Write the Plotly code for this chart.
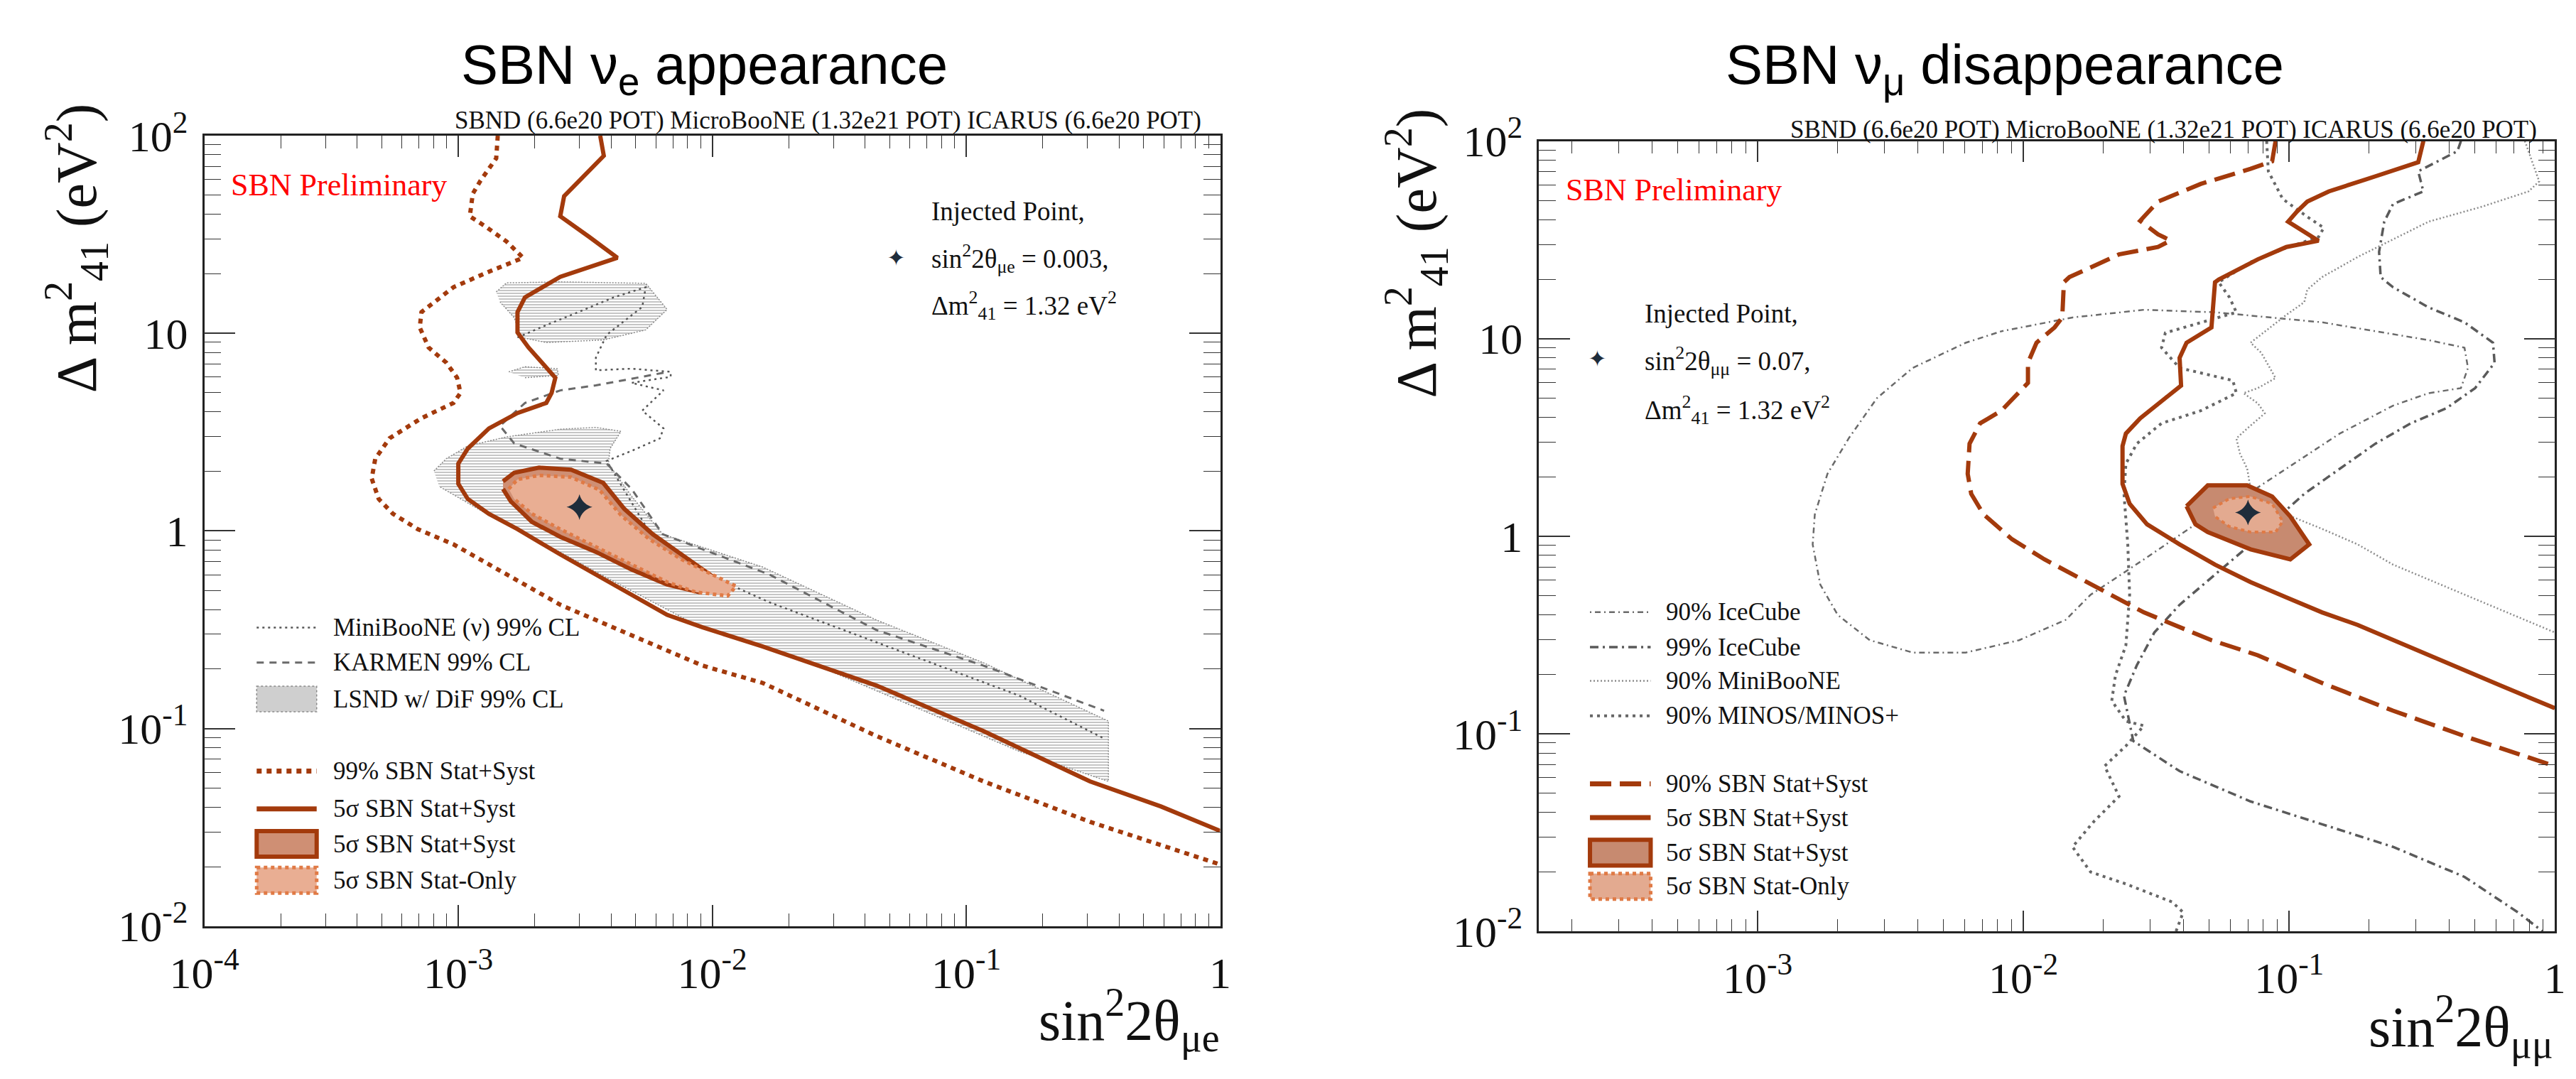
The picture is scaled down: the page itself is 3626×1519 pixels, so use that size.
import plotly.graph_objects as go

W, H = 3626, 1519
SBN = '#a33a0c'
SBN_FILL = '#cf8f74'
SO_FILL = '#e9ae93'
SO_LINE = '#e07a45'

# ---------------- LEFT PANEL: nu_e appearance ----------------
sbn99_app_x = [1.43e-3, 1.41e-3, 1.22e-3, 1.14e-3, 1.11e-3, 1.28e-3, 1.55e-3, 1.80e-3, 1.32e-3, 9.57e-4,
               7.16e-4, 7.05e-4, 7.64e-4, 8.97e-4, 9.89e-4, 1.02e-3, 9.57e-4, 7.16e-4, 5.36e-4, 4.71e-4,
               4.56e-4, 4.86e-4, 5.53e-4, 6.93e-4, 9.57e-4, 1.32e-3, 1.83e-3, 2.52e-3, 3.48e-3, 4.81e-3,
               6.64e-3, 9.16e-3, 1.58e-2, 4.43e-2, 0.117, 0.307, 1.0]
sbn99_app_y = [100, 76.8, 58.9, 50.8, 39.1, 34.7, 29.1, 24.1, 20.5, 17.1,
               12.8, 10.7, 8.47, 7.10, 5.96, 4.99, 4.44, 3.72, 2.94, 2.32,
               1.84, 1.45, 1.22, 1.02, 0.855, 0.676, 0.535, 0.423, 0.354, 0.297,
               0.249, 0.208, 0.170, 0.0916, 0.054, 0.0337, 0.0205]

sbn5s_app_x = [3.62e-3, 3.74e-3, 2.61e-3, 2.52e-3, 3.27e-3, 4.23e-3, 2.52e-3, 1.83e-3, 1.71e-3, 1.71e-3,
               1.89e-3, 2.22e-3, 2.41e-3, 2.33e-3, 2.22e-3, 1.71e-3, 1.32e-3, 1.09e-3, 1.00e-3, 1.00e-3,
               1.09e-3, 1.32e-3, 1.71e-3, 2.52e-3, 3.48e-3, 4.81e-3, 6.64e-3, 9.16e-3, 1.58e-2, 4.43e-2,
               0.117, 0.307, 0.585, 1.0]
sbn5s_app_y = [100, 79.1, 49.4, 39.1, 30.8, 24.1, 19.3, 15.2, 12.8, 10.1,
               8.47, 6.70, 5.96, 4.99, 4.44, 3.95, 3.30, 2.61, 2.19, 1.73,
               1.45, 1.22, 1.02, 0.760, 0.601, 0.475, 0.376, 0.325, 0.26, 0.165,
               0.097, 0.054, 0.0403, 0.0303]

reg_syst_app_x = [1.50e-3, 1.66e-3, 2.08e-3, 2.78e-3, 3.72e-3, 4.51e-3, 5.83e-3, 7.55e-3, 1.08e-2, 8.87e-3,
                  6.64e-3, 4.81e-3, 3.48e-3, 2.52e-3, 1.95e-3, 1.61e-3, 1.50e-3]
reg_syst_app_y = [1.78, 1.97, 2.09, 2.04, 1.75, 1.29, 0.962, 0.760, 0.550, 0.490,
                  0.535, 0.637, 0.783, 0.933, 1.11, 1.41, 1.63]

reg_stat_app_x = [1.58e-3, 1.71e-3, 2.08e-3, 2.78e-3, 3.60e-3, 4.37e-3, 5.65e-3, 7.55e-3, 1.24e-2, 1.15e-2,
                  8.59e-3, 6.64e-3, 4.81e-3, 3.48e-3, 2.52e-3, 1.95e-3, 1.66e-3]
reg_stat_app_y = [1.63, 1.82, 1.91, 1.87, 1.61, 1.20, 0.908, 0.718, 0.525, 0.469,
                  0.490, 0.551, 0.676, 0.830, 1.02, 1.22, 1.45]

lsnd_main_x = [8.02e-4, 8.97e-4, 1.09e-3, 1.55e-3, 2.52e-3, 3.48e-3, 4.37e-3, 3.96e-3, 3.90e-3, 4.81e-3,
               6.38e-3, 0.0158, 0.0443, 0.117, 0.363, 0.363, 0.161, 0.0611, 0.0232, 8.81e-3,
               3.48e-3, 2.52e-3, 1.83e-3, 1.32e-3, 1.02e-3, 8.41e-4]
lsnd_main_y = [2.01, 2.32, 2.69, 2.99, 3.27, 3.34, 3.19, 2.61, 2.19, 1.50,
               0.962, 0.656, 0.354, 0.215, 0.109, 0.054, 0.0768, 0.130, 0.221, 0.33,
               0.62, 0.78, 0.97, 1.20, 1.45, 1.68]
lsnd_top_x = [1.41e-3, 1.55e-3, 2.52e-3, 5.47e-3, 6.64e-3, 5.47e-3, 3.72e-3, 2.22e-3, 1.77e-3, 1.66e-3, 1.46e-3]
lsnd_top_y = [16.2, 18.0, 18.2, 17.9, 13.2, 10.4, 9.25, 8.98, 9.52, 12.0, 14.4]
lsnd_mid_x = [1.58e-3, 1.83e-3, 2.45e-3, 2.48e-3, 1.83e-3]
lsnd_mid_y = [6.38, 6.77, 6.62, 6.13, 5.96]

mb_app_x = [1.71e-3, 2.22e-3, 2.97e-3, 4.09e-3, 5.47e-3, 5.30e-3, 3.84e-3, 3.48e-3, 3.48e-3, 4.81e-3,
            6.86e-3, 6.86e-3, 4.81e-3, 6.43e-3, 5.30e-3, 6.43e-3, 6.22e-3, 4.81e-3, 3.84e-3, 6.38e-3,
            0.0168, 0.0611, 0.161, 0.349]
mb_app_y = [9.52, 11.0, 12.8, 15.2, 17.1, 13.6, 9.82, 7.53, 6.50, 6.62,
            6.38, 6.02, 5.61, 5.14, 4.06, 3.30, 2.94, 2.54, 2.26, 0.760,
            0.435, 0.234, 0.147, 0.0890]

karmen_x = [6.43e-3, 3.48e-3, 2.52e-3, 1.83e-3, 1.46e-3, 1.66e-3, 2.52e-3, 3.84e-3, 4.81e-3, 6.38e-3,
            0.0168, 0.0443, 0.117, 0.349]
karmen_y = [6.31, 5.45, 5.14, 4.44, 3.40, 2.77, 2.32, 2.19, 1.63, 0.962,
            0.601, 0.315, 0.208, 0.123]

inj_app = ([0.003], [1.32])

# ---------------- RIGHT PANEL: nu_mu disappearance ----------------
sbn90_dis_x = [0.0889, 0.0863, 0.0716, 0.0465, 0.0321, 0.0275, 0.0321, 0.0358, 0.0321, 0.0229,
               0.0184, 0.0149, 0.0142, 0.0140, 0.0131, 0.0112, 0.0104, 0.0104, 0.00878, 0.00826,
               6.87e-3, 6.27e-3, 6.17e-3, 6.36e-3, 7.08e-3, 9.06e-3, 0.0120, 0.0153, 0.0189, 0.0284,
               0.0510, 0.0762, 0.133, 0.246, 0.485, 1.0]
sbn90_dis_y = [100, 79.0, 72.4, 60.7, 49.4, 39.5, 33.7, 31.4, 29.1, 26.7,
               23.3, 20.5, 19.3, 12.8, 11.4, 9.54, 7.55, 5.97, 4.71, 4.32,
               3.73, 2.94, 2.07, 1.64, 1.29, 0.966, 0.764, 0.640, 0.552, 0.412,
               0.298, 0.250, 0.181, 0.131, 0.0948, 0.0687]

sbn5s_dis_x = [0.320, 0.306, 0.211, 0.141, 0.117, 0.107, 0.0991, 0.129, 0.0976, 0.0762,
               0.0543, 0.0526, 0.0510, 0.0411, 0.0387, 0.0392, 0.0342, 0.0275, 0.0243, 0.0236,
               0.0236, 0.0251, 0.0292, 0.0387, 0.0526, 0.0716, 0.0976, 0.133, 0.181, 0.246,
               0.335, 0.457, 0.622, 1.0]
sbn5s_dis_y = [100, 78.1, 66.3, 55.6, 49.4, 44.0, 39.1, 31.3, 29.1, 25.2,
               19.9, 19.3, 11.4, 9.54, 8.00, 5.79, 5.00, 3.95, 3.31, 2.86,
               1.84, 1.46, 1.15, 0.910, 0.719, 0.586, 0.491, 0.412, 0.356, 0.298,
               0.250, 0.209, 0.176, 0.135]

reg_syst_dis_x = [0.0411, 0.0494, 0.0695, 0.0863, 0.101, 0.119, 0.101, 0.0716, 0.0494, 0.0444, 0.0411]
reg_syst_dis_y = [1.42, 1.81, 1.81, 1.59, 1.26, 0.910, 0.764, 0.859, 1.05, 1.15, 1.42]
reg_stat_dis_x = [0.0517, 0.0595, 0.0716, 0.0863, 0.0946, 0.0889, 0.0716, 0.0595, 0.0526]
reg_stat_dis_y = [1.39, 1.55, 1.59, 1.46, 1.19, 1.05, 1.05, 1.12, 1.26]

ice90_x = [8.26e-3, 6.07e-3, 3.83e-3, 2.81e-3, 2.20e-3, 1.83e-3, 1.64e-3, 1.61e-3, 1.72e-3, 2.00e-3,
           2.64e-3, 3.83e-3, 6.07e-3, 9.64e-3, 0.0144, 0.0179, 0.0284, 0.0444, 0.0614, 0.0976,
           0.155, 0.246, 0.335, 0.443, 0.471, 0.457, 0.335, 0.133, 0.0526, 0.0284, 0.0153, 8.26e-3]
ice90_y = [10.9, 9.54, 7.11, 5.00, 3.13, 2.07, 1.29, 0.910, 0.569, 0.400,
           0.298, 0.258, 0.258, 0.298, 0.377, 0.506, 0.764, 1.15, 1.46, 2.20,
           3.31, 4.58, 5.30, 5.62, 7.11, 9.00, 9.83, 12.1, 13.6, 14.0, 12.8, 10.9]

ice99_x = [0.443, 0.430, 0.306, 0.320, 0.246, 0.228, 0.218, 0.221, 0.246, 0.335,
           0.457, 0.585, 0.593, 0.501, 0.391, 0.287, 0.211, 0.155, 0.114, 0.0916,
           0.0716, 0.0526, 0.0387, 0.0311, 0.0267, 0.0239, 0.0259, 0.0387, 0.0716, 0.133,
           0.246, 0.457, 0.726, 0.900]
ice99_y = [100, 88.9, 70.3, 55.6, 48.0, 39.1, 27.5, 20.5, 18.2, 14.4,
           12.1, 9.54, 7.55, 5.62, 4.45, 3.73, 2.94, 2.20, 1.64, 1.26,
           0.910, 0.640, 0.450, 0.326, 0.222, 0.156, 0.0921, 0.0648, 0.0455, 0.0349,
           0.0268, 0.0189, 0.0125, 0.0100]

mb_dis_x = [0.771, 0.847, 0.873, 0.796, 0.533, 0.335, 0.246, 0.181, 0.155, 0.133,
            0.117, 0.114, 0.0976, 0.0716, 0.0785, 0.0889, 0.0762, 0.0673, 0.0762, 0.0810,
            0.0695, 0.0633, 0.0653, 0.0695, 0.0716, 0.0976, 0.133, 0.181, 0.246, 0.335,
            0.457, 0.622, 0.847, 1.0]
mb_dis_y = [100, 70.3, 62.5, 55.6, 46.6, 39.1, 31.8, 25.9, 23.0, 20.5,
            17.7, 15.3, 13.2, 9.54, 8.49, 6.32, 5.62, 5.30, 4.71, 4.19,
            3.51, 3.13, 2.62, 2.20, 1.74, 1.29, 1.09, 0.910, 0.719, 0.604,
            0.506, 0.425, 0.356, 0.326]

minos_x = [0.0823, 0.0835, 0.0946, 0.117, 0.135, 0.129, 0.0976, 0.0716, 0.0543, 0.0596,
           0.0633, 0.0465, 0.0342, 0.0331, 0.0387, 0.0614, 0.0633, 0.0465, 0.0331, 0.0267,
           0.0243, 0.0239, 0.0247, 0.0251, 0.0243, 0.0222, 0.0215, 0.0243, 0.0284, 0.0243,
           0.0202, 0.0229, 0.0184, 0.0153, 0.0179, 0.0243, 0.0363, 0.0399, 0.0375]
minos_y = [100, 70.3, 50.9, 41.4, 36.4, 32.7, 28.8, 24.4, 19.3, 16.2,
           13.6, 12.1, 10.7, 9.00, 7.11, 6.14, 5.30, 4.32, 3.73, 2.94,
           2.33, 1.64, 0.910, 0.506, 0.281, 0.198, 0.147, 0.116, 0.110, 0.0869,
           0.0687, 0.0483, 0.0360, 0.0268, 0.0200, 0.0174, 0.0141, 0.0125, 0.0100]

inj_dis = ([0.07], [1.32])

xtick_vals = [1e-4, 1e-3, 1e-2, 1e-1, 1]
xtick_text = ['10<sup>-4</sup>', '10<sup>-3</sup>', '10<sup>-2</sup>', '10<sup>-1</sup>', '1']
ytick_vals = [1e-2, 1e-1, 1, 10, 100]
ytick_text = ['10<sup>-2</sup>', '10<sup>-1</sup>', '1', '10', '10<sup>2</sup>']

fig = go.Figure()


def line(x, y, color, width, dash, xa, ya):
    fig.add_trace(go.Scatter(x=x, y=y, mode='lines', xaxis=xa, yaxis=ya, showlegend=False,
                             line=dict(color=color, width=width, dash=dash), hoverinfo='skip'))


def region(x, y, fill, lcolor, lwidth, dash, xa, ya, pattern=None):
    kw = {}
    if pattern:
        kw['fillpattern'] = pattern
    fig.add_trace(go.Scatter(x=x, y=y, mode='lines', fill='toself', fillcolor=fill, xaxis=xa, yaxis=ya,
                             showlegend=False, line=dict(color=lcolor, width=lwidth, dash=dash),
                             hoverinfo='skip', **kw))


hatch = dict(shape='-', fgcolor='#6e6e6e', bgcolor='rgba(255,255,255,0)', size=4, solidity=0.4)
for lx, ly in [(lsnd_main_x, lsnd_main_y), (lsnd_top_x, lsnd_top_y), (lsnd_mid_x, lsnd_mid_y)]:
    region(lx, ly, 'rgba(255,255,255,0)', '#8a8a8a', 1.5, '2px,2px', 'x', 'y', pattern=hatch)
line(mb_app_x, mb_app_y, '#555', 2.5, '3px,5px', 'x', 'y')
line(karmen_x, karmen_y, '#6a6a6a', 3, '10px,8px', 'x', 'y')
line(sbn99_app_x, sbn99_app_y, SBN, 6, '7px,7px', 'x', 'y')
line(sbn5s_app_x, sbn5s_app_y, SBN, 6, 'solid', 'x', 'y')
region(reg_syst_app_x, reg_syst_app_y, SBN_FILL, SBN, 6, 'solid', 'x', 'y')
region(reg_stat_app_x, reg_stat_app_y, SO_FILL, SO_LINE, 5, '5px,5px', 'x', 'y')
fig.add_trace(go.Scatter(x=inj_app[0], y=inj_app[1], mode='markers', xaxis='x', yaxis='y', showlegend=False,
                         marker=dict(symbol='star-diamond', size=26, color='#1f2d3b'), hoverinfo='skip'))

line(ice90_x, ice90_y, '#6a6a6a', 2.5, '2px,5px,8px,5px', 'x2', 'y2')
line(ice99_x, ice99_y, '#5a5a5a', 3.5, '12px,6px,3px,6px', 'x2', 'y2')
line(mb_dis_x, mb_dis_y, '#8c8c8c', 2.5, '2px,3px', 'x2', 'y2')
line(minos_x, minos_y, '#666666', 4, '4px,6px', 'x2', 'y2')
line(sbn90_dis_x, sbn90_dis_y, SBN, 6, '30px,12px', 'x2', 'y2')
line(sbn5s_dis_x, sbn5s_dis_y, SBN, 6, 'solid', 'x2', 'y2')
region(reg_syst_dis_x, reg_syst_dis_y, '#c78a70', SBN, 6, 'solid', 'x2', 'y2')
region(reg_stat_dis_x, reg_stat_dis_y, '#e3aa90', SO_LINE, 4, '5px,5px', 'x2', 'y2')
fig.add_trace(go.Scatter(x=inj_dis[0], y=inj_dis[1], mode='markers', xaxis='x2', yaxis='y2', showlegend=False,
                         marker=dict(symbol='star-diamond', size=26, color='#1f2d3b'), hoverinfo='skip'))


def px(v):
    return v / W


def py(v):
    return 1 - v / H


SERIF = 'Liberation Serif'
SANS = 'Liberation Sans'
minor_x = [m * 10.0 ** e for e in range(-4, 0) for m in range(2, 10)]
minor_y = [m * 10.0 ** e for e in range(-2, 2) for m in range(2, 10)]


def xaxis_cfg(dom, rng, anchor):
    return dict(type='log', domain=dom, range=rng, anchor=anchor, showline=True, linecolor='#222',
                linewidth=2.5, mirror='allticks', ticks='inside', ticklen=30, tickwidth=1.5, tickcolor='#333',
                tickvals=xtick_vals, ticktext=xtick_text, showgrid=False, zeroline=False,
                tickfont=dict(family=SERIF, size=62, color='#111'), ticklabelstandoff=10,
                minor=dict(ticks='inside', ticklen=18, tickwidth=1.2, tickcolor='#333', tickvals=minor_x,
                           showgrid=False))


def yaxis_cfg(dom, anchor):
    return dict(type='log', domain=dom, range=[-2, 2], anchor=anchor, showline=True, linecolor='#222',
                linewidth=2.5, mirror='allticks', ticks='inside', ticklen=44, tickwidth=1.5,
                tickcolor='#333', tickvals=ytick_vals, ticktext=ytick_text, showgrid=False, zeroline=False,
                tickfont=dict(family=SERIF, size=62, color='#111'), ticklabelstandoff=8,
                minor=dict(ticks='inside', ticklen=24, tickwidth=1.2, tickcolor='#333', tickvals=minor_y,
                           showgrid=False))


fig.update_layout(
    width=W, height=H, margin=dict(l=0, r=0, t=0, b=0),
    paper_bgcolor='white', plot_bgcolor='white',
    xaxis=xaxis_cfg([px(243), px(1699)], [-4, 0], 'y'),
    yaxis=yaxis_cfg([py(1329), py(156)], 'x'),
    xaxis2=xaxis_cfg([px(2156), px(3612)], [-3.823, 0], 'y2'),
    yaxis2=yaxis_cfg([py(1337), py(164)], 'x2'),
)

ann = []
shapes = []


def text(x, y, s, size, xanchor='left', family=SERIF, color='#111', angle=0, yanchor='middle'):
    ann.append(dict(x=px(x), y=py(y), xref='paper', yref='paper', text=s, showarrow=False,
                    xanchor=xanchor, yanchor=yanchor, textangle=angle,
                    font=dict(family=family, size=size, color=color)))


text(960, 56, 'SBN ν<sub>e</sub> appearance', 78, 'center', SANS, '#000')
text(2824, 56, 'SBN ν<sub>μ</sub> disappearance', 78, 'center', SANS, '#000')
pot = 'SBND (6.6e20 POT) MicroBooNE (1.32e21 POT) ICARUS (6.6e20 POT)'
text(1674, 133, pot, 35, 'right')
text(3588, 147, pot, 35, 'right')
text(279, 229, 'SBN Preliminary', 44, 'left', SERIF, '#ff0000')
text(2192, 237, 'SBN Preliminary', 44, 'left', SERIF, '#ff0000')
text(1700, 1468, 'sin<sup>2</sup>2θ<sub>μe</sub>', 80, 'right')
text(3612, 1478, 'sin<sup>2</sup>2θ<sub>μμ</sub>', 80, 'right')
text(60, 323, 'Δ m<sup>2</sup><sub>41</sub> (eV<sup>2</sup>)', 80, 'center', angle=-90)
text(1980, 331, 'Δ m<sup>2</sup><sub>41</sub> (eV<sup>2</sup>)', 80, 'center', angle=-90)
for (x0, ys, sx, sy, lab) in [(1283, (268, 338, 408), 1235, 337, 'sin<sup>2</sup>2θ<sub>μe</sub> = 0.003,'),
                              (2305, (420, 490, 563), 2240, 487, 'sin<sup>2</sup>2θ<sub>μμ</sub> = 0.07,')]:
    text(x0, ys[0], 'Injected Point,', 37)
    text(x0, ys[1], lab, 37)
    text(x0, ys[2], 'Δm<sup>2</sup><sub>41</sub> = 1.32 eV<sup>2</sup>', 37)
    text(sx, sy, '✦', 32, 'center', 'DejaVu Sans', '#1f2d3b')


def leg_line(x0, x1, y, color, width, dash):
    shapes.append(dict(type='line', xref='paper', yref='paper', x0=px(x0), x1=px(x1), y0=py(y), y1=py(y),
                       line=dict(color=color, width=width, dash=dash)))


def leg_box(x0, x1, y, fill, color, width, dash):
    shapes.append(dict(type='rect', xref='paper', yref='paper', x0=px(x0), x1=px(x1), y0=py(y - 19),
                       y1=py(y + 19), fillcolor=fill, line=dict(color=color, width=width, dash=dash)))


LX0, LX1, LT = 318, 404, 426
leg_line(LX0, LX1, 886, '#555', 2.5, '3px,5px'); text(LT, 886, 'MiniBooNE (ν) 99% CL', 35)
leg_line(LX0, LX1, 938, '#6a6a6a', 3, '10px,8px'); text(LT, 938, 'KARMEN 99% CL', 35)
leg_box(LX0, LX1, 992, '#cfcfcf', '#8a8a8a', 1.5, 'dot'); text(LT, 992, 'LSND w/ DiF 99% CL', 35)
leg_line(LX0, LX1, 1099, SBN, 7, '7px,7px'); text(LT, 1099, '99% SBN Stat+Syst', 35)
leg_line(LX0, LX1, 1155, SBN, 7, 'solid'); text(LT, 1155, '5σ SBN Stat+Syst', 35)
leg_box(LX0, LX1, 1207, SBN_FILL, SBN, 6, 'solid'); text(LT, 1207, '5σ SBN Stat+Syst', 35)
leg_box(LX0, LX1, 1261, SO_FILL, SO_LINE, 5, '5px,5px'); text(LT, 1261, '5σ SBN Stat-Only', 35)
RX0, RX1, RT = 2229, 2316, 2336
leg_line(RX0, RX1, 863, '#6a6a6a', 2.5, '2px,5px,8px,5px'); text(RT, 863, '90% IceCube', 35)
leg_line(RX0, RX1, 915, '#5a5a5a', 3.5, '12px,6px,3px,6px'); text(RT, 915, '99% IceCube', 35)
leg_line(RX0, RX1, 965, '#8c8c8c', 2.5, '2px,3px'); text(RT, 965, '90% MiniBooNE', 35)
leg_line(RX0, RX1, 1017, '#666666', 4, '4px,6px'); text(RT, 1017, '90% MINOS/MINOS+', 35)
leg_line(RX0, RX1, 1118, SBN, 7, '30px,12px'); text(RT, 1118, '90% SBN Stat+Syst', 35)
leg_line(RX0, RX1, 1168, SBN, 7, 'solid'); text(RT, 1168, '5σ SBN Stat+Syst', 35)
leg_box(RX0, RX1, 1220, '#c78a70', SBN, 6, 'solid'); text(RT, 1220, '5σ SBN Stat+Syst', 35)
leg_box(RX0, RX1, 1270, '#e3aa90', SO_LINE, 5, '5px,5px'); text(RT, 1270, '5σ SBN Stat-Only', 35)

fig.update_layout(annotations=ann, shapes=shapes)
fig.write_html('out.html')
